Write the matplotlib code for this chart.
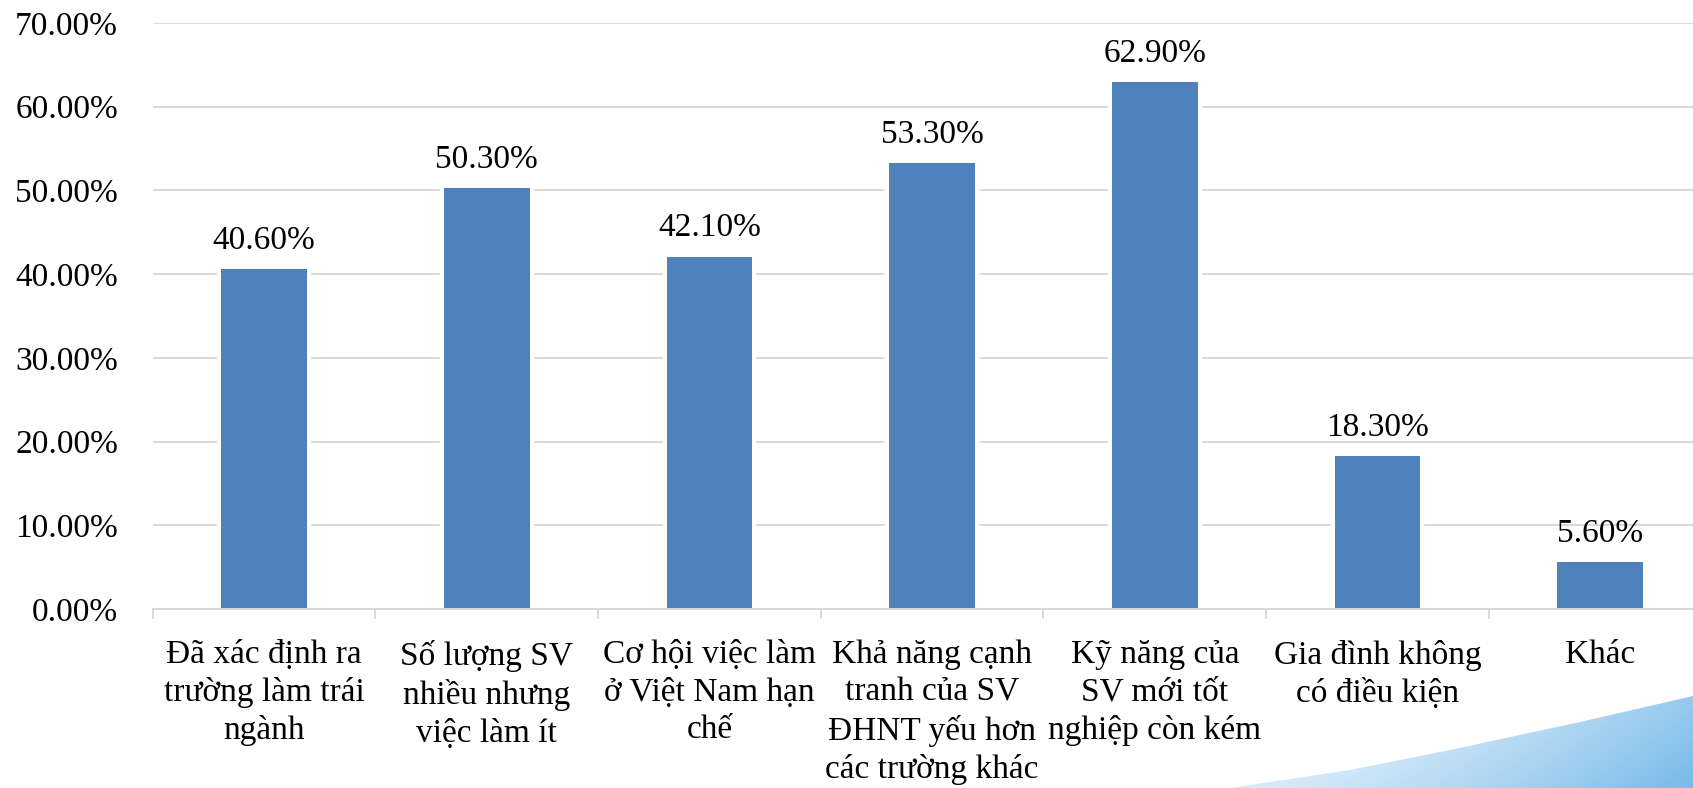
import matplotlib.pyplot as plt
import numpy as np
from matplotlib.patches import Polygon
from matplotlib.ticker import FixedLocator, PercentFormatter

plt.rcParams['font.family'] = ['Liberation Serif', 'DejaVu Serif']

categories = [
    "Đã xác định ra\ntrường làm trái\nngành",
    "Số lượng SV\nnhiều nhưng\nviệc làm ít",
    "Cơ hội việc làm\nở Việt Nam hạn\nchế",
    "Khả năng cạnh\ntranh của SV\nĐHNT yếu hơn\ncác trường khác",
    "Kỹ năng của\nSV mới tốt\nnghiệp còn kém",
    "Gia đình không\ncó điều kiện",
    "Khác",
]
values = [0.406, 0.503, 0.421, 0.533, 0.629, 0.183, 0.056]
yticks = [0.0, 0.1, 0.2, 0.3, 0.4, 0.5, 0.6, 0.7]

W, H = 1693, 788
fig = plt.figure(figsize=(W / 100, H / 100), dpi=100)

# decorative blue swoosh in the lower right corner
bg = fig.add_axes([0, 0, 1, 1], zorder=-1)
bg.set_xlim(0, W)
bg.set_ylim(H, 0)
bg.axis('off')
xx, yy = np.meshgrid(np.linspace(1200, W, 300), np.linspace(680, H, 80))
t = np.clip((xx - 1250) / 443, 0, 1) ** 1.3 * 0.75 + np.clip((yy - 700) / 88, 0, 1) * 0.25
c0 = np.array([0.96, 0.98, 1.0])
c1 = np.array([0.47, 0.73, 0.91])
img = c0[None, None, :] * (1 - t[..., None]) + c1[None, None, :] * t[..., None]
im = bg.imshow(img, extent=(1200, W, H, 680), aspect='auto')
edge = Polygon([(1230, H), (1350, 770), (1450, 750), (1580, 722), (W, 696), (W, H)],
               closed=True, transform=bg.transData, facecolor='none', edgecolor='none')
bg.add_patch(edge)
im.set_clip_path(edge)

ax = fig.add_axes([152.7 / W, (H - 609) / H, 7 * 222.7 / W, (609 - 23) / H])
x = np.arange(len(categories))
ax.set_xlim(-0.5, len(categories) - 0.5)
ax.set_ylim(0, 0.7)

# white halo behind bars so gridlines stop short of them
ax.bar(x, values, width=0.385, color='white', edgecolor='white', linewidth=6, zorder=1.5)
ax.bar(x, values, width=0.385, color='#4F81BD', linewidth=0, zorder=3)

for xi, v in zip(x, values):
    ax.annotate(f"{v * 100:.2f}%", (xi, v), xytext=(0, 14.5), textcoords='offset points',
                ha='center', va='baseline', fontsize=24)

ax.set_yticks(yticks)
ax.yaxis.set_major_formatter(PercentFormatter(1.0, decimals=2))
ax.grid(axis='y', color='#D9D9D9', linewidth=1.4)
ax.set_axisbelow(True)

ax.set_xticks(x)
ax.set_xticklabels(categories, fontsize=24, linespacing=1.3)
ax.xaxis.set_minor_locator(FixedLocator(np.arange(-0.5, len(categories), 1.0)))
ax.tick_params(axis='x', which='major', length=0, pad=22)
ax.tick_params(axis='x', which='minor', length=7, color='#D9D9D9', width=1.4)
ax.tick_params(axis='y', length=0, pad=25, labelsize=24)

for s in ['left', 'right', 'top']:
    ax.spines[s].set_visible(False)
ax.spines['bottom'].set_color('#D9D9D9')
ax.spines['bottom'].set_linewidth(1.4)
ax.spines['bottom'].set_zorder(4)

fig.savefig('out.png', dpi=100)
